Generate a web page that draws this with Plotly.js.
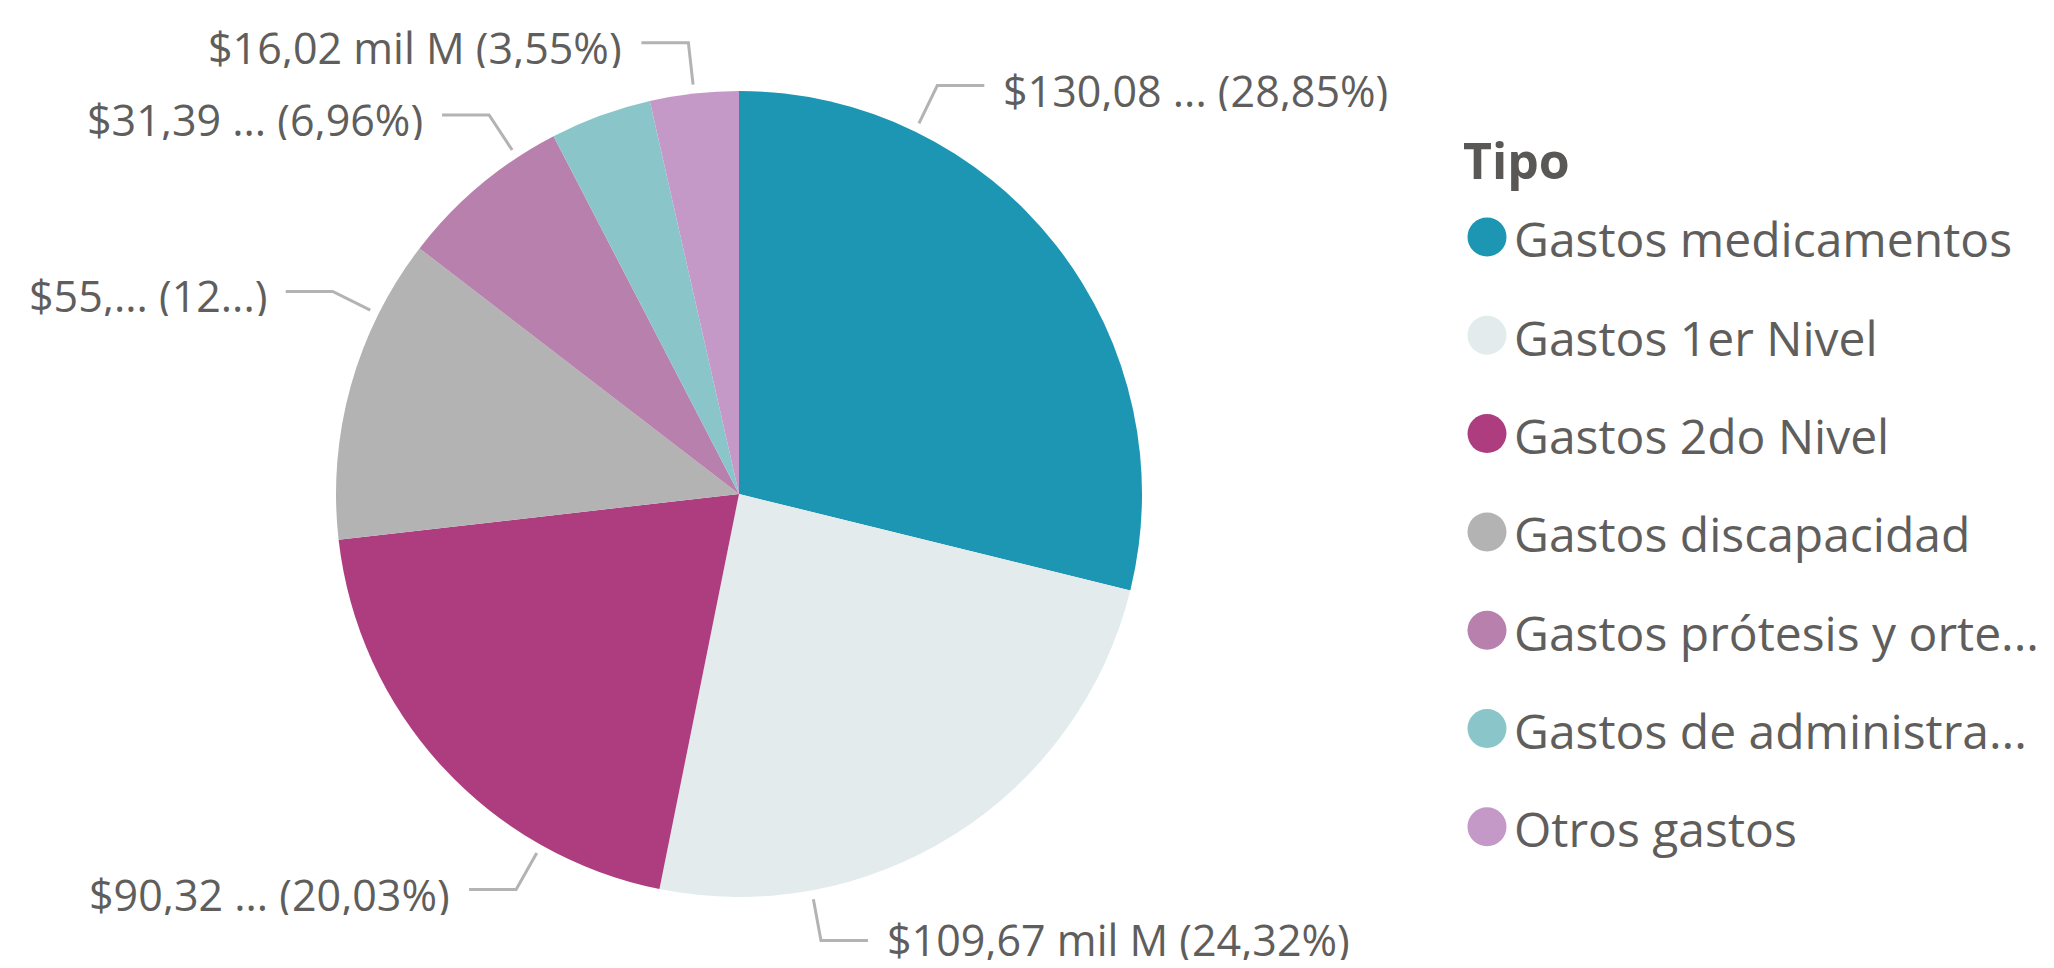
<!DOCTYPE html>
<html>
<head>
<meta charset="utf-8">
<script src="https://cdn.plot.ly/plotly-3.0.1.min.js"></script>
<style>
  html, body { margin: 0; padding: 0; background: #ffffff; }
  #chart { width: 2054px; height: 968px; }
</style>
</head>
<body>
<div id="chart"></div>
<script>
// ---- data ----
const categories = [
  "Gastos medicamentos",
  "Gastos 1er Nivel",
  "Gastos 2do Nivel",
  "Gastos discapacidad",
  "Gastos prótesis y ortesis",
  "Gastos de administración",
  "Otros gastos"
];
const legendLabels = [
  "Gastos medicamentos",
  "Gastos 1er Nivel",
  "Gastos 2do Nivel",
  "Gastos discapacidad",
  "Gastos prótesis y orte...",
  "Gastos de administra...",
  "Otros gastos"
];
// values in "mil M" (thousand millions)
const values = [130.08, 109.67, 90.32, 55.2, 31.39, 18.3, 16.02];
const dataLabels = [
  "$130,08 ... (28,85%)",
  "$109,67 mil M (24,32%)",
  "$90,32 ... (20,03%)",
  "$55,... (12...)",
  "$31,39 ... (6,96%)",
  "",
  "$16,02 mil M (3,55%)"
];
const colors = ["#1C96B2", "#E3EBED", "#AE3D80", "#B3B3B3", "#B881AD", "#8AC6C9", "#C499C8"];

// ---- layout settings (positions / styles) ----
const W = 2054, H = 968;
const CX = 739, CY = 494, R = 403;
// angle (deg clockwise from 12 o'clock) where each leader line leaves the pie
const labelAngles = [25.9, 169.6, 209.4, 296.5, 326.6, null, 353.6];
const TEXT_COLOR = "#605E5C";
const LINE_COLOR = "#B3B3B3";
const FONT = "'Open Sans', 'Noto Sans', sans-serif";

function px(x) { return x / W; }
function py(y) { return 1 - y / H; }

const pieTrace = {
  type: "pie",
  labels: categories,
  values: values,
  sort: false,
  direction: "clockwise",
  rotation: 0,
  marker: { colors: colors, line: { width: 0 } },
  textinfo: "none",
  hoverinfo: "label+value+percent",
  showlegend: false,
  domain: { x: [px(CX - R), px(CX + R)], y: [py(CY + R), py(CY - R)] }
};

const shapes = [];
const annotations = [];

// leader lines + data labels
labelAngles.forEach((ang, i) => {
  if (ang === null || !dataLabels[i]) return;
  const t = ang * Math.PI / 180;
  const s = Math.sin(t), c = Math.cos(t);
  const x0 = CX + (R + 9) * s, y0 = CY - (R + 9) * c;
  const x1 = CX + (R + 51) * s, y1 = CY - (R + 51) * c;
  const dir = s >= 0 ? 1 : -1;
  const x2 = x1 + dir * 47;
  shapes.push({
    type: "path", xref: "paper", yref: "paper",
    path: `M ${px(x0)} ${py(y0)} L ${px(x1)} ${py(y1)} L ${px(x2)} ${py(y1)}`,
    line: { color: LINE_COLOR, width: 3 }
  });
  const ty = Math.min(y1 + 4, H - 29);
  annotations.push({
    xref: "paper", yref: "paper",
    x: px(x2 + dir * 18), y: py(ty),
    xanchor: dir > 0 ? "left" : "right", yanchor: "middle",
    height: 42, valign: "middle", borderpad: 0,
    text: dataLabels[i], showarrow: false,
    font: { family: FONT, size: 43, color: TEXT_COLOR }
  });
});

// legend (manual, circle markers)
const LEG_X = 1487, LEG_Y0 = 237, LEG_DY = 98.3;
annotations.push({
  xref: "paper", yref: "paper",
  x: px(1461), y: py(160), xanchor: "left", yanchor: "middle",
  text: "<b>Tipo</b>", showarrow: false,
  font: { family: FONT, size: 50, color: "#5A5856" }
});
legendLabels.forEach((lab, i) => {
  const yc = LEG_Y0 + i * LEG_DY;
  shapes.push({
    type: "circle", xref: "paper", yref: "paper",
    xsizemode: "pixel", ysizemode: "pixel",
    xanchor: px(LEG_X), yanchor: py(yc),
    x0: -19.5, x1: 19.5, y0: -19.5, y1: 19.5,
    fillcolor: colors[i], line: { width: 0 }
  });
  annotations.push({
    xref: "paper", yref: "paper",
    x: px(1512), y: py(yc + 2), xanchor: "left", yanchor: "middle",
    text: lab, showarrow: false,
    font: { family: FONT, size: 48, color: TEXT_COLOR }
  });
});

const layout = {
  width: W, height: H,
  margin: { l: 0, r: 0, t: 0, b: 0 },
  paper_bgcolor: "#ffffff",
  plot_bgcolor: "#ffffff",
  showlegend: false,
  shapes: shapes,
  annotations: annotations
};

Plotly.newPlot("chart", [pieTrace], layout, { displayModeBar: false, staticPlot: true });
</script>
</body>
</html>
